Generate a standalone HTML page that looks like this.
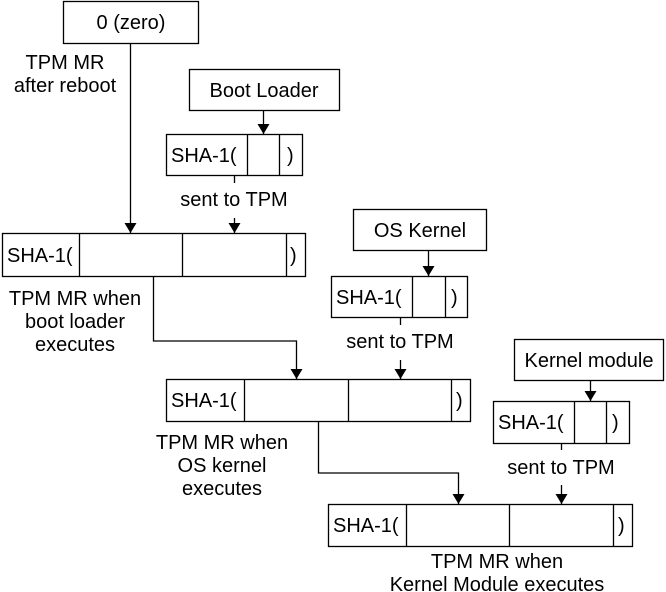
<!DOCTYPE html>
<html><head><style>body{margin:0;background:#fff}svg{display:block}text{font-family:"Liberation Sans",Arial,sans-serif;font-size:20px;fill:#000}</style></head><body>
<svg width="666" height="592" viewBox="0 0 666 592" xmlns="http://www.w3.org/2000/svg">
<defs>
<marker id="b" viewBox="0 0 10 12" markerWidth="10" markerHeight="12" refX="10" refY="6" orient="auto" markerUnits="userSpaceOnUse"><path d="M0,0 L10,6 L0,12 z" fill="#000"/></marker></defs>
<g fill="none" stroke="#000" stroke-width="1.3">
<rect x="63.5" y="1.5" width="135" height="42"/>
<rect x="189.5" y="69.5" width="150" height="41"/>
<rect x="166.5" y="134.5" width="136" height="41"/><path d="M247.5 134v41M279.5 134v41"/>
<rect x="2.5" y="233.5" width="303" height="43"/><path d="M79.5 233v43M182.5 233v43M286.5 233v43"/>
<rect x="353.5" y="209.5" width="133" height="41"/>
<rect x="331.5" y="276.5" width="136" height="41"/><path d="M412.5 276v41M445.5 276v41"/>
<rect x="166.5" y="379.5" width="304" height="42"/><path d="M244.5 379v42M348.5 379v42M451.5 379v42"/>
<rect x="514.5" y="339.5" width="149" height="41"/>
<rect x="493.5" y="401.5" width="136" height="42"/><path d="M574.5 401v42M606.5 401v42"/>
<rect x="328.5" y="504.5" width="304" height="42"/><path d="M406.5 504v42M509.5 504v42M613.5 504v42"/>
<path d="M234.5 175v8M400.5 317v8M561.5 443v7"/>
</g>
<g fill="none" stroke="#000" stroke-width="1.3" marker-end="url(#b)">
<path d="M130.5 43V233"/>
<path d="M263.5 110V134"/>
<path d="M234.5 218V233"/>
<path d="M153.5 276v65h143V379"/>
<path d="M428.5 250V276"/>
<path d="M400.5 360V379"/>
<path d="M318.5 421v52h140V504"/>
<path d="M590.5 380V401"/>
<path d="M561.5 485V504"/>
</g>
<g text-anchor="middle">
<text x="131" y="29">0 (zero)</text>
<text x="65" y="69">TPM MR</text><text x="65" y="92">after reboot</text>
<text x="264" y="97">Boot Loader</text>
<text x="420" y="237">OS Kernel</text>
<text x="589" y="367">Kernel module</text>
<text x="234" y="206" font-size="15.5">sent to TPM</text>
<text x="400" y="348" font-size="15.5">sent to TPM</text>
<text x="561" y="474" font-size="15.5">sent to TPM</text>
<text x="75" y="305">TPM MR when</text><text x="75" y="328">boot loader</text><text x="75" y="351">executes</text>
<text x="222" y="449">TPM MR when</text><text x="222" y="472">OS kernel</text><text x="222" y="495">executes</text>
<text x="497" y="568">TPM MR when</text><text x="497" y="591">Kernel Module executes</text>
</g>
<g>
<text x="171" y="162">SHA-1(</text><text x="287" y="162">)</text>
<text x="7" y="262">SHA-1(</text><text x="290" y="262">)</text>
<text x="336" y="304">SHA-1(</text><text x="451" y="304">)</text>
<text x="171" y="407">SHA-1(</text><text x="456" y="407">)</text>
<text x="498" y="429">SHA-1(</text><text x="612" y="429">)</text>
<text x="333" y="532">SHA-1(</text><text x="618" y="532">)</text>
</g>
</svg>
</body></html>
